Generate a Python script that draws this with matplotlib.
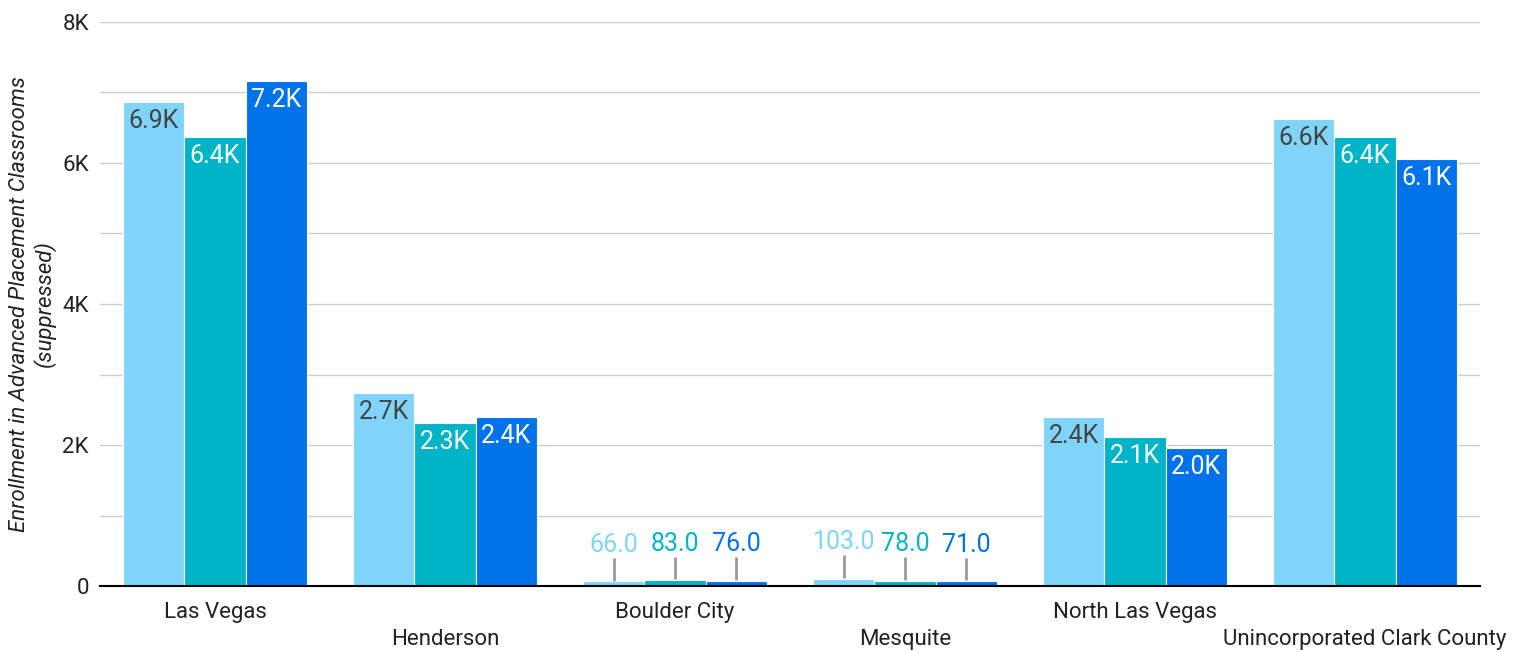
import matplotlib
matplotlib.use("Agg")
import matplotlib.pyplot as plt
import numpy as np

plt.rcParams['font.family'] = ['Roboto', 'DejaVu Sans']

# Data
cities = ["Las Vegas", "Henderson", "Boulder City", "Mesquite",
          "North Las Vegas", "Unincorporated Clark County"]
series_a = [6870, 2740, 66, 103, 2400, 6620]
series_b = [6370, 2310, 83, 78, 2110, 6370]
series_c = [7160, 2400, 76, 71, 1960, 6060]
y_ticks = [0, 2000, 4000, 6000, 8000]
y_tick_labels = ["0", "2K", "4K", "6K", "8K"]

colors = ["#80d4f9", "#00b4c8", "#0073ea"]
inside_text = ["#444444", "white", "white"]


def fmt(v):
    if v >= 1000:
        return f"{v / 1000:.1f}K"
    return f"{v:.1f}"


fig = plt.figure(figsize=(15.25, 6.52), dpi=100)
ax = fig.add_axes([100 / 1525, 66 / 652, 1380 / 1525, 564 / 652])

x = np.arange(len(cities))
width = 0.266
series = [series_a, series_b, series_c]

for k, vals in enumerate(series):
    pos = x + (k - 1) * width
    ax.bar(pos, vals, width=width, color=colors[k], edgecolor="white",
           linewidth=0.8, zorder=3)
    for p, v in zip(pos, vals):
        if v > 500:
            ax.text(p, v - 100, fmt(v), ha="center", va="top", fontsize=18,
                    color=inside_text[k], zorder=4)
        else:
            # small bars: label above with a grey leader line
            ax.plot([p, p], [v + 10, v + 330], color="#999999", lw=2,
                    solid_capstyle="butt", zorder=4)
            ax.text(p, v + 345, fmt(v), ha="center", va="bottom", fontsize=18,
                    color=colors[k], zorder=4)

ax.set_xlim(-0.5, len(cities) - 0.5)
ax.set_ylim(0, 8000)
ax.set_yticks(y_ticks)
ax.set_yticklabels(y_tick_labels, fontsize=16, color="#222222")
ax.set_yticks(np.arange(1000, 8000, 2000), minor=True)
ax.grid(axis="y", which="both", color="#cccccc", lw=1, zorder=0)
ax.tick_params(axis="y", which="both", length=0, pad=8)

ax.set_xticks(x)
ax.set_xticklabels([])
ax.tick_params(axis="x", length=0)
for i, name in enumerate(cities):
    off = 0.047 if i % 2 == 0 else 0.095
    ax.text(i, -off * 8000, name, ha="center", va="center", fontsize=16,
            color="#222222", clip_on=False)

for s in ["top", "right", "left"]:
    ax.spines[s].set_visible(False)
ax.spines["bottom"].set_color("black")
ax.spines["bottom"].set_linewidth(1.5)
ax.spines["bottom"].set_zorder(5)

ax.set_ylabel("Enrollment in Advanced Placement Classrooms\n(suppressed)",
              fontsize=16, style="italic", color="#222222", linespacing=1.15)
ax.yaxis.set_label_coords(-44 / 1380, 0.5)

fig.savefig("out.png", dpi=100)
